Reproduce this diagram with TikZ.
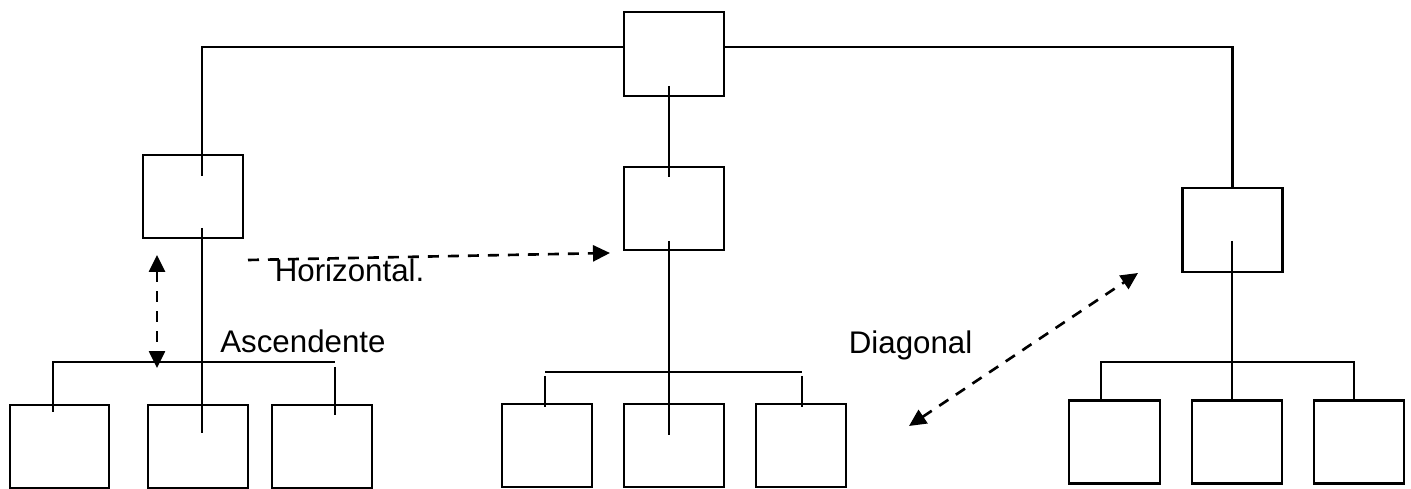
\documentclass[tikz,border=0pt]{standalone}
\usepackage{fontspec}
\setmainfont{Liberation Sans}
\usepackage{tikz}
\usetikzlibrary{arrows.meta,calc,positioning}
\tikzset{
  >={Triangle[length=0.34cm,width=0.32cm]},
  link/.style={line width=1.3pt,draw=black},
  dashlink/.style={line width=1.5pt,draw=black,dash pattern=on 0.22cm off 0.18cm},
  unit/.style={draw=black,line width=1.3pt,minimum width=2cm,minimum height=1.66cm,inner sep=0pt},
  narrow/.style={unit,minimum width=1.8cm},
  tag/.style={font=\fontsize{17.8}{20}\selectfont,inner sep=0pt,anchor=base west}
}
\begin{document}
\begin{tikzpicture}[x=0.02cm,y=-0.02cm]
  \useasboundingbox (0,0) rectangle (1411,489);
  % levels
  \node[unit,minimum height=1.68cm] (root) at (674,54) {};
  \node[unit] (lhead) at (193,196.5) {};
  \node[unit] (mhead) at (674,208.5) {};
  \node[unit,minimum height=1.68cm] (rhead) at (1232.5,230) {};
  \node[unit,minimum width=1.98cm] (l1) at (59.5,446.5) {};
  \node[unit] (l2) at (198,446.5) {};
  \node[unit] (l3) at (322,446.5) {};
  \node[narrow] (m1) at (547,445.5) {};
  \node[unit] (m2) at (674,445.5) {};
  \node[narrow] (m3) at (801,445.5) {};
  \node[narrow,minimum width=1.82cm] (r1) at (1114.5,442) {};
  \node[narrow] (r2) at (1237,442) {};
  \node[narrow] (r3) at (1359,442) {};
  % ports inside the boxes
  \coordinate (lhead-in) at (202,176);
  \coordinate (lhead-out) at (202,228);
  \coordinate (l2-in) at (202,433);
  \coordinate (lbus-l) at (53,412);
  \coordinate (lbus-r) at (335,362);
  \coordinate (l3-top) at (335,367);
  \coordinate (l3-in) at (335,415);
  \coordinate (root-out) at (669,86);
  \coordinate (mhead-in) at (669,177);
  \coordinate (mhead-out) at (669,241);
  \coordinate (m2-in) at (669,435);
  \coordinate (mbus-l) at (545,372);
  \coordinate (mbus-r) at (802,372);
  \coordinate (rhead-out) at (1232,241);
  \coordinate (rbus-l) at (1101,362);
  \coordinate (rbus-r) at (1354,362);
  % left branch
  \draw[link] ([yshift=0.14cm]root.west) -| (lhead-in);
  \draw[link] (lhead-out) -- (l2-in);
  \draw[link] (lbus-l) |- (lbus-r);
  \draw[link] (l3-top) -- (l3-in);
  % middle branch
  \draw[link] (root-out) -- (mhead-in);
  \draw[link] (mhead-out) -- (m2-in);
  \draw[link] (mbus-l) -- (mbus-r);
  \draw[link] ([yshift=-0.08cm]mbus-l) -- ([yshift=-0.08cm]mbus-l |- m1.north);
  \draw[link] ([yshift=-0.08cm]mbus-r) -- ([yshift=-0.08cm]mbus-r |- m3.north);
  % right branch
  \draw[link] ([yshift=0.14cm]root.east) -| (rhead.north);
  \draw[link] (rhead-out) -- (rhead-out |- r2.north);
  \draw[link] (rbus-l |- r1.north) |- (rbus-r) -- (rbus-r |- r3.north);
  % relations
  \coordinate (h-start) at (248,260);
  \coordinate (h-end) at (610,253);
  \draw[dashlink,->] (h-start) -- (h-end);
  \coordinate (v-top) at (157,255);
  \coordinate (v-bot) at (157,368);
  \draw[dashlink,<->] (v-top) -- (v-bot);
  \coordinate (d-low) at (909,426);
  \coordinate (d-high) at (1138,273);
  \draw[dashlink,<->] (d-low) -- (d-high);
  \node[tag] (horiz) at (274.5,282) {Horizontal.};
  \node[tag] (asc) at (220,353) {Ascendente};
  \node[tag] (diag) at (848.5,354) {Diagonal};
\end{tikzpicture}
\end{document}
